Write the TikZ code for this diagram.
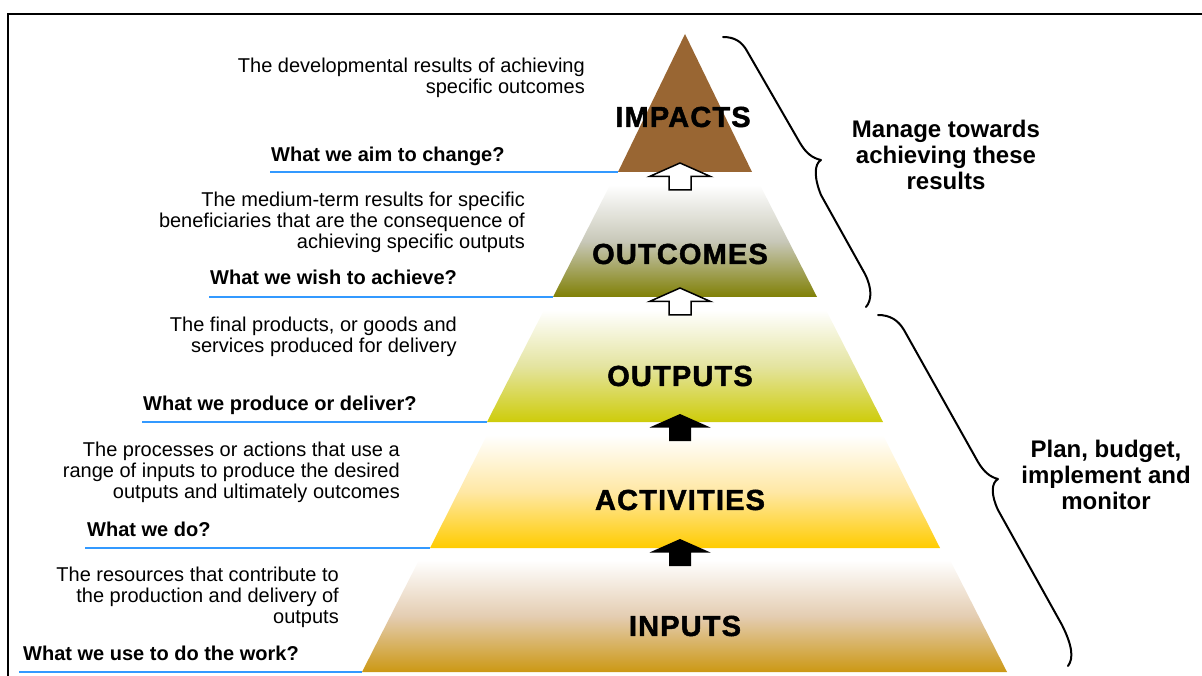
\documentclass[tikz,border=0pt]{standalone}
\usepackage{fontspec}
\setmainfont{Liberation Sans}
\newfontfamily\heavyfont{Liberation Sans}[BoldFeatures={FakeBold=1.6}, LetterSpace=4]
\begin{document}
\begin{tikzpicture}[x=1pt,y=-1pt,
  desc/.style={anchor=north east, align=right, inner sep=0pt, font=\fontsize{20}{21}\selectfont},
  question/.style={anchor=base west, inner sep=0pt, font=\fontsize{20}{21}\selectfont\bfseries},
  level/.style={inner sep=0pt, font=\fontsize{29}{30}\selectfont\heavyfont\bfseries},
  side/.style={anchor=north, align=center, inner sep=0pt, font=\fontsize{24}{26}\selectfont\bfseries},
  underline/.style={draw=lineblue, line width=2pt},
  bracepath/.style={draw=black, line width=2pt, line cap=round, line join=round},
  pics/blockarrow/.style={code={
    \path[pic actions] (0,0) -- (30.5,13.5) -- (11,13.5) -- (11,27) -- (-11,27)
      -- (-11,13.5) -- (-30.5,13.5) -- cycle;}}
]
\definecolor{lineblue}{RGB}{51,153,255}
\definecolor{impactbrown}{RGB}{153,102,51}
\definecolor{outcomeolive}{RGB}{128,128,5}
\definecolor{outcomemid}{RGB}{200,200,185}
\definecolor{outputlime}{RGB}{206,204,10}
\definecolor{outputmid}{RGB}{228,228,160}
\definecolor{activitygold}{RGB}{255,204,0}
\definecolor{activitymid}{RGB}{255,232,165}
\definecolor{inputochre}{RGB}{204,152,20}
\definecolor{inputmid}{RGB}{228,205,178}

\useasboundingbox (0,0) rectangle (1202,676);

% frame
\draw[line width=2.5pt] (8,676) -- (8,14) -- (1202,14);

% corners of the pyramid levels
\coordinate (apex) at (685,34);
\coordinate (imp-bl) at (618,172);   \coordinate (imp-br) at (752,172);
\coordinate (out-tl) at (610,185);   \coordinate (out-tr) at (760,185);
\coordinate (out-bl) at (553,297);   \coordinate (out-br) at (817,297);
\coordinate (opt-tl) at (544,310);   \coordinate (opt-tr) at (826,310);
\coordinate (opt-bl) at (487,422);   \coordinate (opt-br) at (883,422);
\coordinate (act-tl) at (487,435);   \coordinate (act-tr) at (883,435);
\coordinate (act-bl) at (430,548);   \coordinate (act-br) at (940,548);
\coordinate (inp-tl) at (419,560);   \coordinate (inp-tr) at (950,560);
\coordinate (inp-bl) at (362,672);   \coordinate (inp-br) at (1007,672);

% levels
\fill[impactbrown] (apex) -- (imp-br) -- (imp-bl) -- cycle;
\shade[top color=white, bottom color=outcomeolive, middle color=outcomemid]
  (out-tl) -- (out-tr) -- (out-br) -- (out-bl) -- cycle;
\shade[top color=white, bottom color=outputlime, middle color=outputmid]
  (opt-tl) -- (opt-tr) -- (opt-br) -- (opt-bl) -- cycle;
\shade[top color=white, bottom color=activitygold, middle color=activitymid]
  (act-tl) -- (act-tr) -- (act-br) -- (act-bl) -- cycle;
\shade[top color=white, bottom color=inputochre, middle color=inputmid]
  (inp-tl) -- (inp-tr) -- (inp-br) -- (inp-bl) -- cycle;

% arrows between levels
\pic[draw=black, fill=white, line width=1.5pt] at (680,163) {blockarrow};
\pic[draw=black, fill=white, line width=1.5pt] at (680,288) {blockarrow};
\pic[fill=black] at (680,414) {blockarrow};
\pic[fill=black] at (680,539) {blockarrow};

% level names
\node[level] (impacts) at (683,117) {IMPACTS};
\node[level] (outcomes) at (680,254) {OUTCOMES};
\node[level] (outputs) at (680,376) {OUTPUTS};
\node[level] (activities) at (680,500) {ACTIVITIES};
\node[level] (inputs) at (685,626) {INPUTS};

% descriptions
\node[desc] (d-imp) at (585,57.5) {The developmental results of achieving\\specific outcomes};
\node[desc] (d-out) at (525,191.5) {The medium-term results for specific\\beneficiaries that are the consequence of\\achieving specific outputs};
\node[desc] (d-opt) at (457,316.5) {The final products, or goods and\\services produced for delivery};
\node[desc] (d-act) at (400,441.5) {The processes or actions that use a\\range of inputs to produce the desired\\outputs and ultimately outcomes};
\node[desc] (d-inp) at (339,566.5) {The resources that contribute to\\the production and delivery of\\outputs};

% guiding questions and their underlines
\node[question] (q-imp) at (271,162) {What we aim to change?};
\node[question] (q-out) at (210,285) {What we wish to achieve?};
\node[question] (q-opt) at (143,410) {What we produce or deliver?};
\node[question] (q-act) at (87,536) {What we do?};
\node[question] (q-inp) at (23,660) {What we use to do the work?};

\draw[underline] ([xshift=-1pt]q-imp.west |- imp-bl) -- (imp-bl);
\draw[underline] ([xshift=-1pt]q-out.west |- out-bl) -- (out-bl);
\draw[underline] ([xshift=-1pt]q-opt.west |- opt-bl) -- (opt-bl);
\draw[underline] ([xshift=-2pt]q-act.west |- act-bl) -- (act-bl);
\draw[underline] ([xshift=-4pt]q-inp.west |- inp-bl) -- (inp-bl);

% braces
\draw[bracepath] (723,37) .. controls (735,37) and (742,42) .. (747,51)
  -- (800,143) .. controls (806,153) and (812,158) .. (821,160)
  .. controls (814,164) and (814,178) .. (821,195)
  -- (865,274) .. controls (872,288) and (872,300) .. (866,307);
\draw[bracepath] (878,315) .. controls (890,315) and (898,320) .. (904,330)
  -- (978,462) .. controls (984,472) and (990,477) .. (998,479)
  .. controls (991,483) and (991,495) .. (998,510)
  -- (1062,625) .. controls (1072,645) and (1074,658) .. (1068,666);

% brace captions
\node[side] (manage) at (946,120) {Manage towards\\achieving these\\results};
\node[side] (plan) at (1106,440) {Plan, budget,\\implement and\\monitor};
\end{tikzpicture}
\end{document}
